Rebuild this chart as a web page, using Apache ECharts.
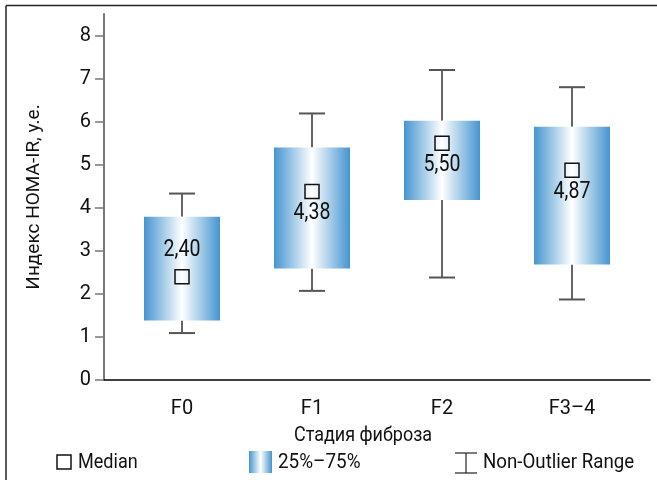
<!DOCTYPE html>
<html><head><meta charset="utf-8">
<script src="https://cdn.jsdelivr.net/npm/echarts@6/dist/echarts.min.js"></script>
<style>html,body{margin:0;padding:0;background:#fff}#c{width:657px;height:480px}</style>
</head><body><div id="c"></div>
<script>
const categories = ['F0', 'F1', 'F2', 'F3–4'];
const medians = [2.40, 4.38, 5.50, 4.87];
const q1 = [1.38, 2.59, 4.18, 2.68];
const q3 = [3.79, 5.40, 6.02, 5.88];
const whiskerLow = [1.09, 2.07, 2.38, 1.87];
const whiskerHigh = [4.33, 6.19, 7.20, 6.80];
const yTicks = [0, 1, 2, 3, 4, 5, 6, 7, 8];
const yTitle = 'Индекс HOMA-IR, у.е.';
const xTitle = 'Стадия фиброза';
const legendLabels = ['Median', '25%–75%', 'Non-Outlier Range'];

const FONT = "Roboto, 'Liberation Sans', sans-serif";
const boxGrad = () => new echarts.graphic.LinearGradient(0, 0, 1, 0, [
  { offset: 0, color: '#4595cf' },
  { offset: 0.5, color: '#ffffff' },
  { offset: 1, color: '#4595cf' }
]);

const boxData = categories.map((c, i) => [i, q1[i], q3[i], whiskerLow[i], whiskerHigh[i], medians[i]]);

function label(text, x, y, size, align, sx) {
  return { type: 'text', x: x, y: y, scaleX: sx,
    style: { text: text, x: 0, y: 0, fill: '#111', font: size + 'px ' + FONT,
      align: align, verticalAlign: 'middle' } };
}

const chart = echarts.init(document.getElementById('c'), null, { renderer: 'canvas' });
chart.setOption({
  animation: false,
  grid: { left: 104, right: 7, top: 14, bottom: 100 },
  xAxis: {
    type: 'value', min: -0.6, max: 3.6,
    splitLine: { show: false },
    axisLine: { show: true, onZero: false, lineStyle: { color: '#000', width: 1.5 } },
    axisTick: { show: false },
    axisLabel: {
      customValues: categories.map((c, i) => i),
      formatter: v => categories[Math.round(v)] || '',
      fontFamily: FONT, fontSize: 20, color: '#111', margin: 19
    }
  },
  yAxis: {
    type: 'value', min: 0, max: 8.5, interval: 1,
    splitLine: { show: false },
    axisLine: { show: true, onZero: false, lineStyle: { color: '#777', width: 2 } },
    axisTick: { show: true, length: 9, lineStyle: { color: '#777', width: 1.5 },
      customValues: yTicks },
    axisLabel: { customValues: yTicks, fontFamily: FONT, fontSize: 20, color: '#111', margin: 13 },
    name: yTitle, nameLocation: 'middle', nameGap: 60,
    nameTextStyle: { fontFamily: FONT, fontSize: 19, color: '#111' }
  },
  series: [{
    type: 'custom',
    data: boxData,
    encode: { x: 0, y: [1, 2, 3, 4, 5] },
    renderItem: function (params, api) {
      const x = api.value(0);
      const pQ1 = api.coord([x, api.value(1)]);
      const pQ3 = api.coord([x, api.value(2)]);
      const pWL = api.coord([x, api.value(3)]);
      const pWH = api.coord([x, api.value(4)]);
      const pMed = api.coord([x, api.value(5)]);
      const halfW = api.size([0.585, 0])[0] / 2;
      const capHalf = api.size([0.2, 0])[0] / 2;
      const cx = pQ1[0];
      const idx = params.dataIndex;
      const labelText = api.value(5).toFixed(2).replace('.', ',');
      const labelY = idx === 0 ? pMed[1] - 26 : pMed[1] + 22;
      const wStyle = { stroke: '#666', lineWidth: 2 };
      const cStyle = { stroke: '#555', lineWidth: 2 };
      return {
        type: 'group',
        children: [
          { type: 'line', shape: { x1: cx, y1: pQ3[1], x2: cx, y2: pWH[1] }, style: wStyle },
          { type: 'line', shape: { x1: cx, y1: pQ1[1], x2: cx, y2: pWL[1] }, style: wStyle },
          { type: 'line', shape: { x1: cx - capHalf, y1: pWH[1], x2: cx + capHalf, y2: pWH[1] }, style: cStyle },
          { type: 'line', shape: { x1: cx - capHalf, y1: pWL[1], x2: cx + capHalf, y2: pWL[1] }, style: cStyle },
          { type: 'rect', shape: { x: cx - halfW, y: pQ3[1], width: halfW * 2, height: pQ1[1] - pQ3[1] },
            style: { fill: boxGrad() } },
          { type: 'rect', shape: { x: cx - 7, y: pMed[1] - 7, width: 14, height: 14 },
            style: { fill: 'rgba(255,255,255,0.3)', stroke: '#111', lineWidth: 1.5 } },
          label(labelText, cx, labelY, 23, 'center', 0.85)
        ]
      };
    }
  }],
  graphic: [
    { type: 'line', shape: { x1: 6, y1: 5.5, x2: 657, y2: 5.5 }, style: { stroke: '#222', lineWidth: 1.5 } },
    { type: 'line', shape: { x1: 6, y1: 5.5, x2: 6, y2: 480 }, style: { stroke: '#222', lineWidth: 1.5 } },
    label(xTitle, 363, 436, 20, 'center', 0.9),
    { type: 'rect', shape: { x: 57, y: 455, width: 14, height: 14 }, style: { fill: '#fff', stroke: '#111', lineWidth: 1.5 } },
    label(legendLabels[0], 78, 463, 21, 'left', 0.86),
    { type: 'rect', shape: { x: 249, y: 451, width: 23, height: 22 }, style: { fill: boxGrad() } },
    label(legendLabels[1], 278, 463, 21, 'left', 0.9),
    { type: 'line', shape: { x1: 455, y1: 453, x2: 477, y2: 453 }, style: { stroke: '#222', lineWidth: 1.2 } },
    { type: 'line', shape: { x1: 466, y1: 453, x2: 466, y2: 473 }, style: { stroke: '#222', lineWidth: 1.2 } },
    { type: 'line', shape: { x1: 455, y1: 473, x2: 477, y2: 473 }, style: { stroke: '#222', lineWidth: 1.2 } },
    label(legendLabels[2], 483, 463, 21, 'left', 0.89)
  ]
});
</script>
</body></html>
